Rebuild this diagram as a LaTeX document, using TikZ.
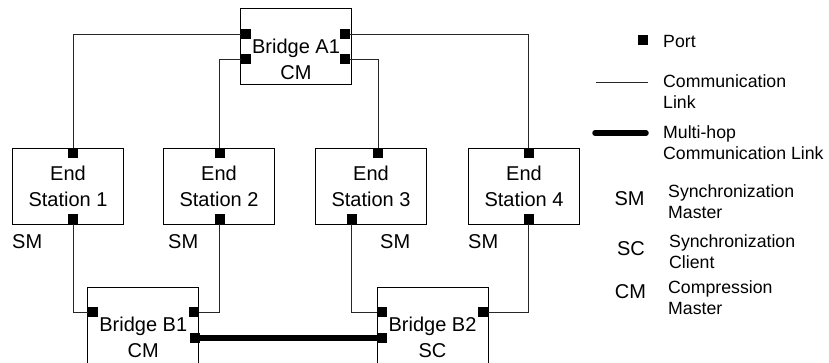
\documentclass[tikz,border=0pt]{standalone}
\usepackage{fontspec}
\setmainfont{Liberation Sans}
\usetikzlibrary{calc}

\begin{document}
\begin{tikzpicture}[x=1pt,y=-1pt]
\tikzset{box/.style={draw,line width=0.9pt,minimum width=111pt,minimum height=76pt,inner sep=0pt,outer sep=0pt},
	port/.style={fill,minimum size=10pt,inner sep=0pt,outer sep=0pt},
	link/.style={black!85,line width=0.8pt},
	multihop/.style={line width=5.5pt},
	big/.style={font=\fontsize{20}{26}\selectfont,align=center,inner sep=0pt},
	small/.style={font=\fontsize{17.7}{21}\selectfont,align=left,inner sep=0pt,anchor=west}}

	\clip (0,0) rectangle (829,362);

	% bridges and end stations
	\node[box] (a1) at (296,46.5) {};
	\node[big] (a1txt) at ([yshift=-12.5pt]a1.center) {Bridge A1\\CM};

	\node[box,big] (es1) at (68,186) {End\\Station 1};
	\node[box,big] (es2) at (219,186) {End\\Station 2};
	\node[box,big] (es3) at (371,186) {End\\Station 3};
	\node[box,big] (es4) at (524,186) {End\\Station 4};

	\node[box] (b1) at (143.25,325) {};
	\node[big] (b1txt) at ([yshift=-12.5pt]b1.center) {Bridge B1\\CM};
	\node[box] (b2) at (432.5,325) {};
	\node[big] (b2txt) at ([yshift=-12.5pt]b2.center) {Bridge B2\\SC};

	\node[big,anchor=west] (sm1) at (12,242) {SM};
	\node[big,anchor=west] (sm2) at (168,242) {SM};
	\node[big,anchor=west] (sm3) at (380,242) {SM};
	\node[big,anchor=west] (sm4) at (468,242) {SM};

	% ports
	\node[port] (a1lu) at (246,34) {};
	\node[port] (a1ld) at (246,59) {};
	\node[port] (a1ru) at (345,34) {};
	\node[port] (a1rd) at (345,59) {};

	\node[port] (es1t) at (73,153) {};
	\node[port] (es1b) at (73,219) {};
	\node[port] (es2t) at (219.5,153) {};
	\node[port] (es2b) at (219.5,219) {};
	\node[port] (es3t) at (378,153) {};
	\node[port] (es3b) at (351.5,219) {};
	\node[port] (es4t) at (528.5,153) {};
	\node[port] (es4b) at (528.5,219) {};

	\node[port] (b1l) at (93,312) {};
	\node[port] (b1r) at (194,312) {};
	\node[port] (b1m) at (194.5,338) {};
	\node[port] (b2l) at (382,312) {};
	\node[port] (b2m) at (382,338) {};
	\node[port] (b2r) at (483,312) {};

	% links
	\draw[link] (a1lu.west) -| (es1t.north);
	\draw[link] (a1ld.west) -| (es2t.north);
	\draw[link] (a1rd.east) -| (es3t.north);
	\draw[link] (a1ru.east) -| (es4t.north);

	\draw[link] (es1b.south) |- (b1l.west);
	\draw[link] (es2b.south) |- (b1r.east);
	\draw[link] (es3b.south) |- (b2l.west);
	\draw[link] (es4b.south) |- (b2r.east);

	\draw[multihop] (b1m.east) -- (b2m.west);

	% legend
	\node[port] (lport) at (642.5,40) {};
	\node[small] (lporttxt) at (663,41) {Port};

	\coordinate (lcl1) at (596,82);
	\coordinate (lcl2) at (648,82);
	\draw[link] (lcl1) -- (lcl2);
	\node[small] (lcltxt) at (663,92) {Communication\\Link};

	\coordinate (lmh1) at (595,133);
	\coordinate (lmh2) at (646,133);
	\draw[multihop,line cap=round] (lmh1) -- (lmh2);
	\node[small] (lmhtxt) at (663,143) {Multi-hop\\Communication Link};

	\node[big] (lsm) at (629.5,199) {SM};
	\node[small] (lsmtxt) at (668,202) {Synchronization\\Master};
	\node[big] (lsc) at (631,249) {SC};
	\node[small] (lsctxt) at (669,252) {Synchronization\\Client};
	\node[big] (lcm) at (630.5,292) {CM};
	\node[small] (lcmtxt) at (668,298) {Compression\\Master};

\end{tikzpicture}
\end{document}
